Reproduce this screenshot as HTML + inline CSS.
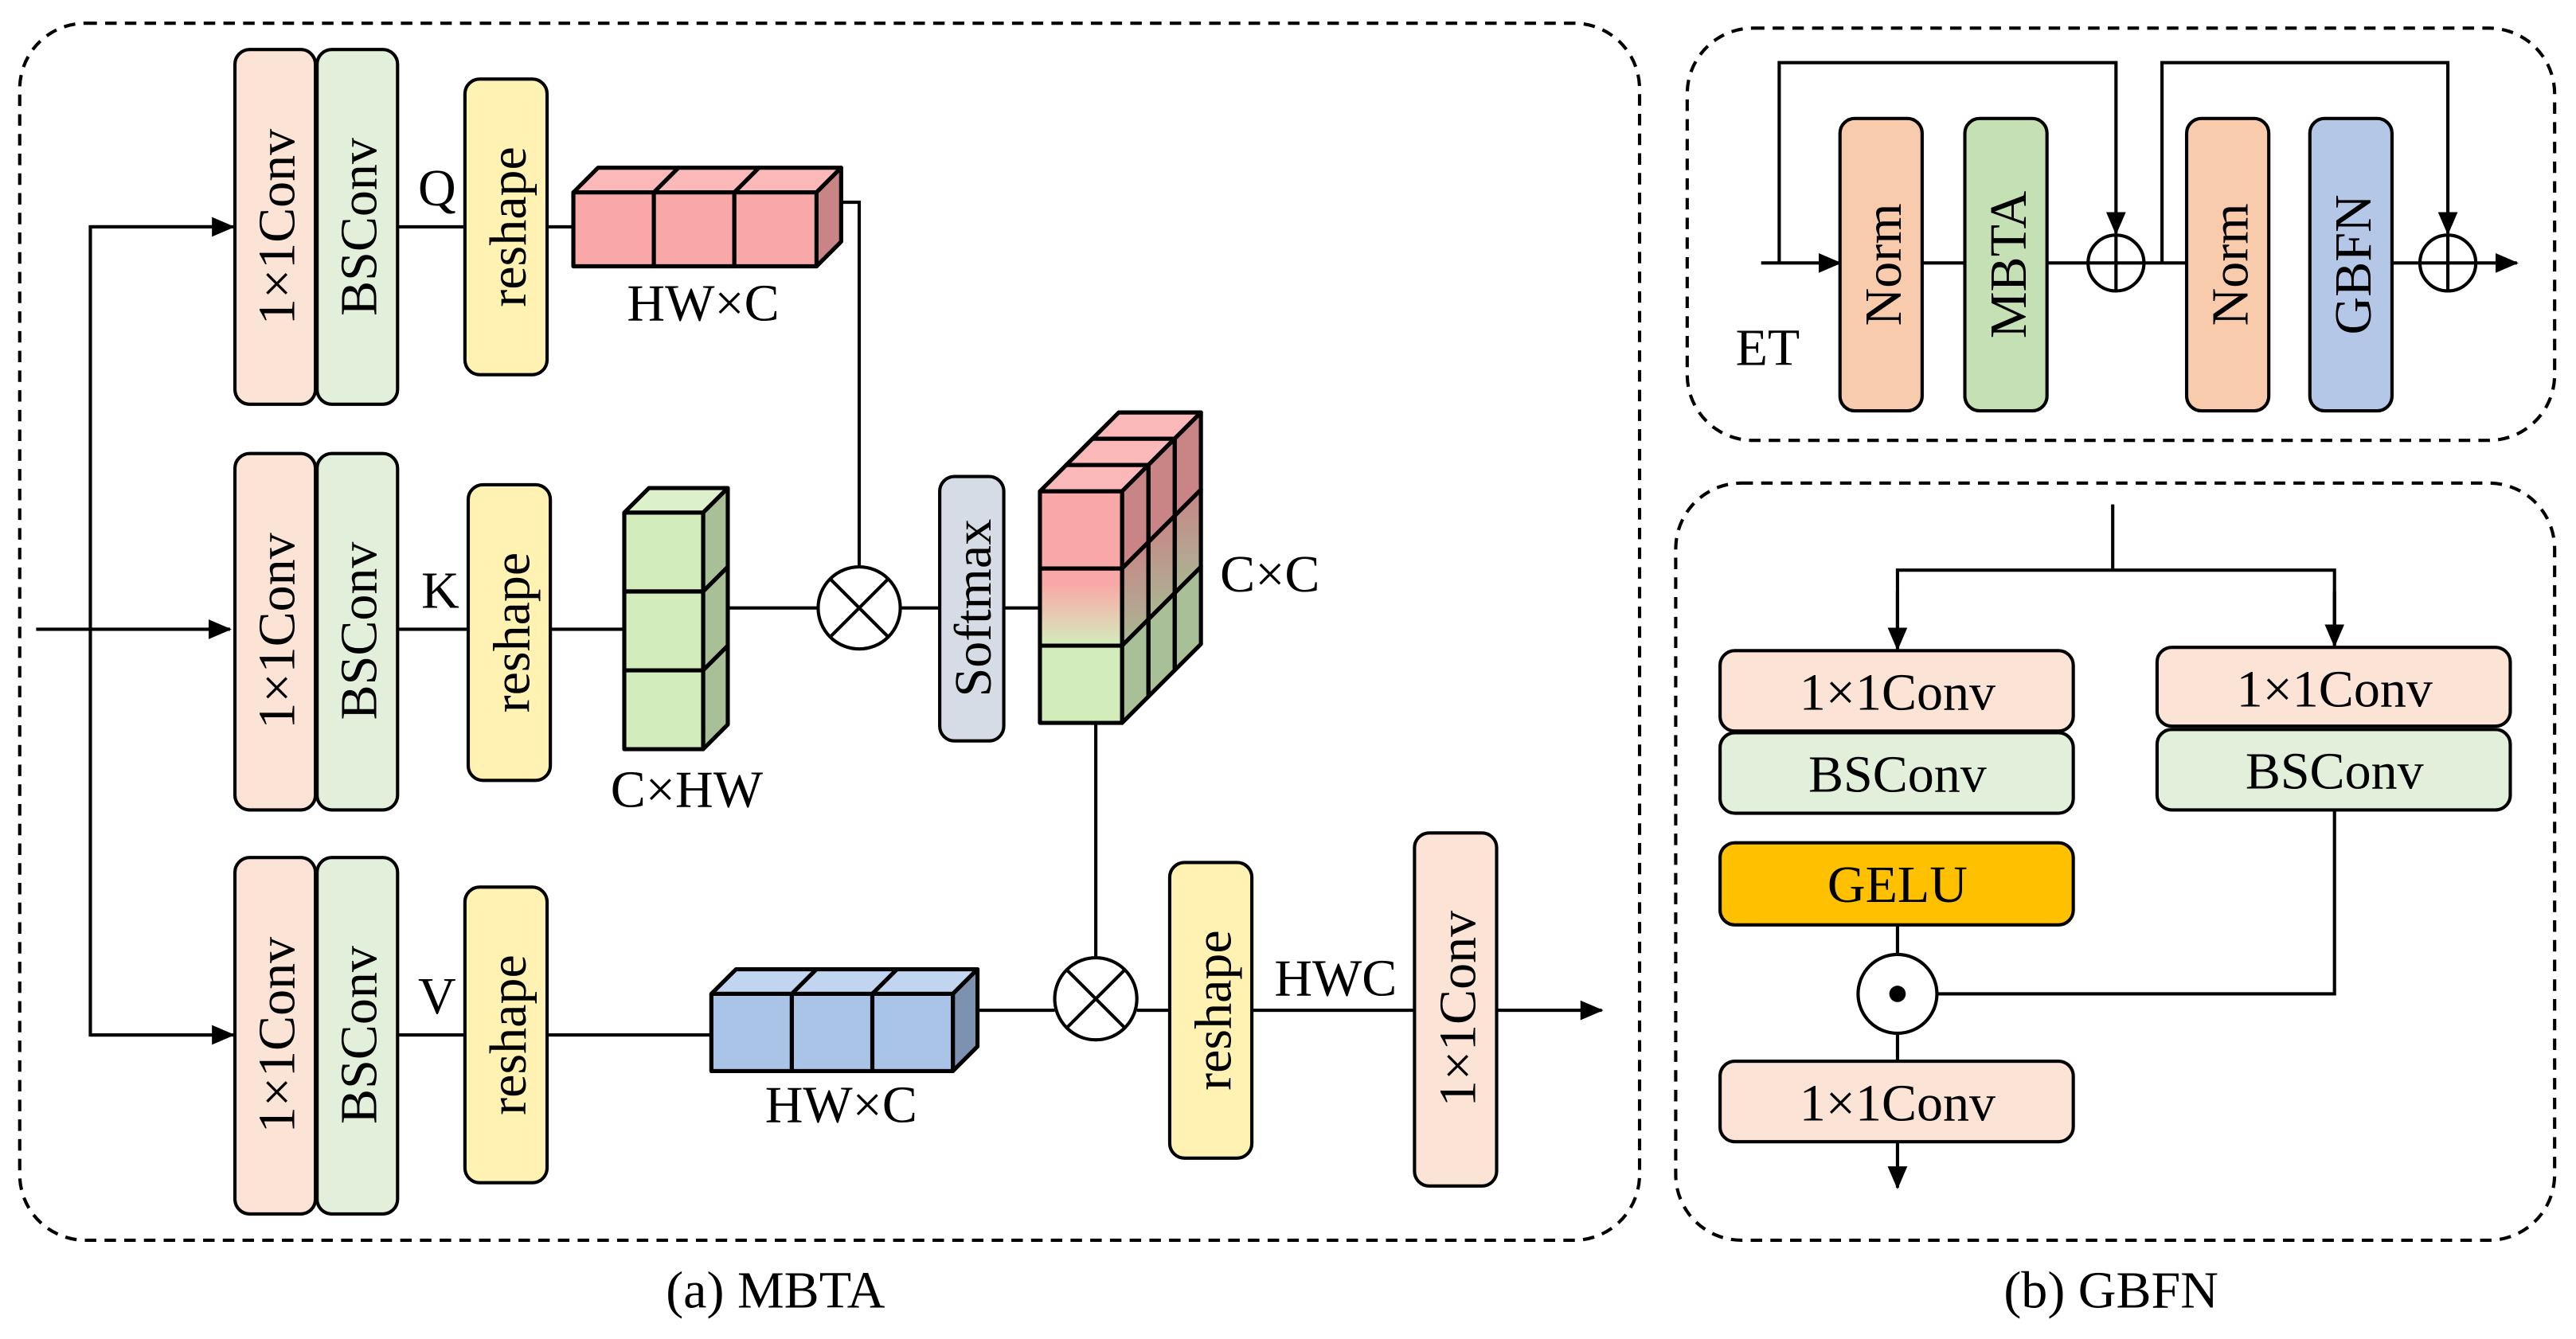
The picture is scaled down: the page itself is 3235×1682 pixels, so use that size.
<!DOCTYPE html>
<html><head><meta charset="utf-8"><style>html,body{margin:0;padding:0;background:#fff}svg{display:block}svg text{font-family:"Liberation Serif","DejaVu Serif",serif}</style></head><body>
<svg width="3235" height="1682" viewBox="0 0 1568 815" xmlns="http://www.w3.org/2000/svg" style="font-family:'Liberation Serif',serif">
<defs>
<marker id="ab" markerWidth="14" markerHeight="12" refX="13" refY="6" orient="auto" markerUnits="userSpaceOnUse"><path d="M0,0 L14,6 L0,12 Z" fill="#000"/></marker>
<linearGradient id="g" x1="0" y1="0" x2="0" y2="1"><stop offset="0.2" stop-color="#f9a8a8"/><stop offset="1" stop-color="#d3ecbc"/></linearGradient>
<linearGradient id="gs" x1="0" y1="0" x2="0" y2="1"><stop offset="0" stop-color="#c98585"/><stop offset="1" stop-color="#a8b894"/></linearGradient>
</defs>
<g fill="none" stroke="#000" stroke-width="2" stroke-dasharray="7,5">
<rect x="12" y="14" width="986" height="741" rx="40"/>
<rect x="1027" y="17" width="528" height="251" rx="40"/>
<rect x="1020" y="294" width="535" height="461" rx="40"/>
</g>
<g stroke="#000" stroke-width="2" fill="none">
<line x1="22" y1="383" x2="140" y2="383" marker-end="url(#ab)"/>
<polyline points="140,138 55,138 55,630 140,630" />
<line x1="55" y1="138" x2="142" y2="138" marker-end="url(#ab)"/>
<line x1="55" y1="630" x2="142" y2="630" marker-end="url(#ab)"/>
<line x1="242" y1="138" x2="283" y2="138"/><line x1="333" y1="138" x2="349" y2="138"/>
<line x1="242" y1="383" x2="285" y2="383"/><line x1="335" y1="383" x2="380" y2="383"/>
<line x1="242" y1="630" x2="283" y2="630"/><line x1="333" y1="630" x2="433" y2="630"/>
<polyline points="512,123 523,123 523,345"/>
<line x1="443" y1="370" x2="498" y2="370"/>
<line x1="548" y1="370" x2="572" y2="370"/><line x1="611" y1="370" x2="634" y2="370"/>
<line x1="667" y1="440" x2="667" y2="583"/>
<line x1="595" y1="615" x2="642" y2="615"/>
<line x1="692" y1="615" x2="712" y2="615"/>
<line x1="762" y1="615" x2="861" y2="615"/>
<line x1="911" y1="615" x2="975" y2="615" marker-end="url(#ab)"/>
</g>
<g stroke="#000" stroke-width="2">
<rect x="143" y="30" width="49" height="216" rx="9" fill="#fbe3d6"/>
<rect x="193" y="30" width="49" height="216" rx="9" fill="#e2efda"/>
<rect x="283" y="48" width="50" height="180" rx="9" fill="#fff2b3"/>
<rect x="143" y="276" width="49" height="217" rx="9" fill="#fbe3d6"/>
<rect x="193" y="276" width="49" height="217" rx="9" fill="#e2efda"/>
<rect x="285" y="295" width="50" height="180" rx="9" fill="#fff2b3"/>
<rect x="143" y="522" width="49" height="217" rx="9" fill="#fbe3d6"/>
<rect x="193" y="522" width="49" height="217" rx="9" fill="#e2efda"/>
<rect x="283" y="540" width="50" height="180" rx="9" fill="#fff2b3"/>
<rect x="572" y="290" width="39" height="161" rx="9" fill="#d6dce5"/>
<rect x="712" y="525" width="50" height="180" rx="9" fill="#fff2b3"/>
<rect x="861" y="507" width="50" height="215" rx="9" fill="#fbe3d6"/>
<circle cx="523" cy="370" r="25" fill="#fff"/>
<circle cx="667" cy="608" r="25" fill="#fff"/>
</g>
<g stroke="#000" stroke-width="2">
<path d="M505,352 L541,388 M541,352 L505,388"/>
<path d="M649,590 L685,626 M685,590 L649,626"/>
</g>
<g stroke="#000" stroke-width="2.5" stroke-linejoin="round">
<polygon points="349,117 364,102 413,102 398,117" fill="#fbb8b8"/>
<polygon points="398,117 413,102 462,102 447,117" fill="#fbb8b8"/>
<polygon points="447,117 462,102 512,102 497,117" fill="#fbb8b8"/>
<polygon points="497,117 512,102 512,147 497,162" fill="#c98585"/>
<rect x="349" y="117" width="49" height="45" fill="#f9a8a8"/>
<rect x="398" y="117" width="49" height="45" fill="#f9a8a8"/>
<rect x="447" y="117" width="50" height="45" fill="#f9a8a8"/>
<polygon points="380,312 395,297 443,297 428,312" fill="#ddf0cc"/>
<polygon points="428,312 443,297 443,345 428,360" fill="#a8bf98"/>
<polygon points="428,360 443,345 443,393 428,408" fill="#a8bf98"/>
<polygon points="428,408 443,393 443,441 428,456" fill="#a8bf98"/>
<rect x="380" y="312" width="48" height="48" fill="#d3ecbc"/>
<rect x="380" y="360" width="48" height="48" fill="#d3ecbc"/>
<rect x="380" y="408" width="48" height="48" fill="#d3ecbc"/>
<polygon points="433,605 448,590 497,590 482,605" fill="#c2d5f0"/>
<polygon points="482,605 497,590 546,590 531,605" fill="#c2d5f0"/>
<polygon points="531,605 546,590 595,590 580,605" fill="#c2d5f0"/>
<polygon points="580,605 595,590 595,637 580,652" fill="#7d92b0"/>
<rect x="433" y="605" width="49" height="47" fill="#aac4e8"/>
<rect x="482" y="605" width="49" height="47" fill="#aac4e8"/>
<rect x="531" y="605" width="49" height="47" fill="#aac4e8"/>
<g transform="translate(32,-32)">
<polygon points="633,299 649,283 699,283 683,299" fill="#fbb8b8"/>
<polygon points="683,299 699,283 699,330 683,346" fill="#c98585"/>
<polygon points="683,346 699,330 699,377 683,393" fill="url(#gs)"/>
<polygon points="683,393 699,377 699,424 683,440" fill="#a8bf98"/>
<rect x="633" y="299" width="50" height="141" fill="#f9a8a8"/>
</g>
<g transform="translate(16,-16)">
<polygon points="633,299 649,283 699,283 683,299" fill="#fbb8b8"/>
<polygon points="683,299 699,283 699,330 683,346" fill="#c98585"/>
<polygon points="683,346 699,330 699,377 683,393" fill="url(#gs)"/>
<polygon points="683,393 699,377 699,424 683,440" fill="#a8bf98"/>
<rect x="633" y="299" width="50" height="141" fill="#f9a8a8"/>
</g>
<polygon points="633,299 649,283 699,283 683,299" fill="#fbb8b8"/>
<polygon points="683,299 699,283 699,330 683,346" fill="#c98585"/>
<polygon points="683,346 699,330 699,377 683,393" fill="url(#gs)"/>
<polygon points="683,393 699,377 699,424 683,440" fill="#a8bf98"/>
<rect x="633" y="299" width="50" height="47" fill="#f9a8a8"/>
<rect x="633" y="346" width="50" height="47" fill="url(#g)"/>
<rect x="633" y="393" width="50" height="47" fill="#d3ecbc"/>
</g>
<g font-size="32" text-anchor="middle" fill="#000">
<text transform="translate(179,138) rotate(-90)">1×1Conv</text>
<text transform="translate(229,138) rotate(-90)">BSConv</text>
<text transform="translate(320,138) rotate(-90)">reshape</text>
<text transform="translate(179,384) rotate(-90)">1×1Conv</text>
<text transform="translate(229,384) rotate(-90)">BSConv</text>
<text transform="translate(322,385) rotate(-90)">reshape</text>
<text transform="translate(179,630) rotate(-90)">1×1Conv</text>
<text transform="translate(229,630) rotate(-90)">BSConv</text>
<text transform="translate(320,630) rotate(-90)">reshape</text>
<text transform="translate(603,370) rotate(-90)">Softmax</text>
<text transform="translate(749,615) rotate(-90)">reshape</text>
<text transform="translate(898,614) rotate(-90)">1×1Conv</text>
<text x="266" y="125">Q</text>
<text x="268" y="370">K</text>
<text x="266" y="617">V</text>
<text x="428" y="195">HW×C</text>
<text x="418" y="491">C×HW</text>
<text x="773" y="360">C×C</text>
<text x="512" y="683">HW×C</text>
<text x="813" y="606">HWC</text>
<text x="472" y="796">(a) MBTA</text>
<text x="1285" y="796">(b) GBFN</text>
<text x="1076" y="222">ET</text>
</g>
<g stroke="#000" stroke-width="2" fill="none">
<line x1="1072" y1="160" x2="1120" y2="160" marker-end="url(#ab)"/>
<polyline points="1083,160 1083,38 1288,38 1288,142" marker-end="url(#ab)"/>
<line x1="1170" y1="160" x2="1196" y2="160"/>
<line x1="1246" y1="160" x2="1271" y2="160"/>
<line x1="1305" y1="160" x2="1331" y2="160"/>
<polyline points="1316,160 1316,38 1490,38 1490,142" marker-end="url(#ab)"/>
<line x1="1456" y1="160" x2="1473" y2="160"/>
<line x1="1507" y1="160" x2="1532" y2="160" marker-end="url(#ab)"/>
</g>
<g stroke="#000" stroke-width="2">
<rect x="1120" y="72" width="50" height="178" rx="9" fill="#f8cbad"/>
<rect x="1196" y="72" width="50" height="178" rx="9" fill="#c5e0b4"/>
<rect x="1331" y="72" width="50" height="178" rx="9" fill="#f8cbad"/>
<rect x="1406" y="72" width="50" height="178" rx="9" fill="#b4c7e7"/>
<circle cx="1288" cy="160" r="17" fill="#fff"/>
<circle cx="1490" cy="160" r="17" fill="#fff"/>
<path d="M1271,160 H1305 M1288,143 V177 M1473,160 H1507 M1490,143 V177" fill="none"/>
</g>
<g font-size="32" text-anchor="middle">
<text transform="translate(1157,161) rotate(-90)">Norm</text>
<text transform="translate(1233,161) rotate(-90)">MBTA</text>
<text transform="translate(1368,161) rotate(-90)">Norm</text>
<text transform="translate(1443,161) rotate(-90)">GBFN</text>
</g>
<g stroke="#000" stroke-width="2" fill="none">
<polyline points="1286,307 1286,347"/>
<polyline points="1155,394 1155,347 1421,347 1421,392"/>
<line x1="1155" y1="360" x2="1155" y2="395" marker-end="url(#ab)"/>
<line x1="1421" y1="360" x2="1421" y2="393" marker-end="url(#ab)"/>
<line x1="1155" y1="563" x2="1155" y2="581"/>
<line x1="1155" y1="629" x2="1155" y2="646"/>
<polyline points="1421,493 1421,605 1179,605"/>
<line x1="1155" y1="695" x2="1155" y2="723" marker-end="url(#ab)"/>
</g>
<g stroke="#000" stroke-width="2">
<rect x="1047" y="396" width="215" height="49" rx="9" fill="#fbe3d6"/>
<rect x="1047" y="446" width="215" height="49" rx="9" fill="#e2efda"/>
<rect x="1047" y="513" width="215" height="50" rx="9" fill="#ffc000"/>
<rect x="1047" y="646" width="215" height="49" rx="9" fill="#fbe3d6"/>
<rect x="1313" y="394" width="215" height="48" rx="9" fill="#fbe3d6"/>
<rect x="1313" y="444" width="215" height="49" rx="9" fill="#e2efda"/>
<circle cx="1155" cy="605" r="24" fill="#fff"/>
</g>
<circle cx="1155" cy="605" r="5" fill="#000"/>
<g font-size="32" text-anchor="middle">
<text x="1155" y="432">1×1Conv</text>
<text x="1155" y="482">BSConv</text>
<text x="1155" y="549">GELU</text>
<text x="1155" y="682">1×1Conv</text>
<text x="1421" y="430">1×1Conv</text>
<text x="1421" y="480">BSConv</text>
</g>
</svg>
</body></html>
